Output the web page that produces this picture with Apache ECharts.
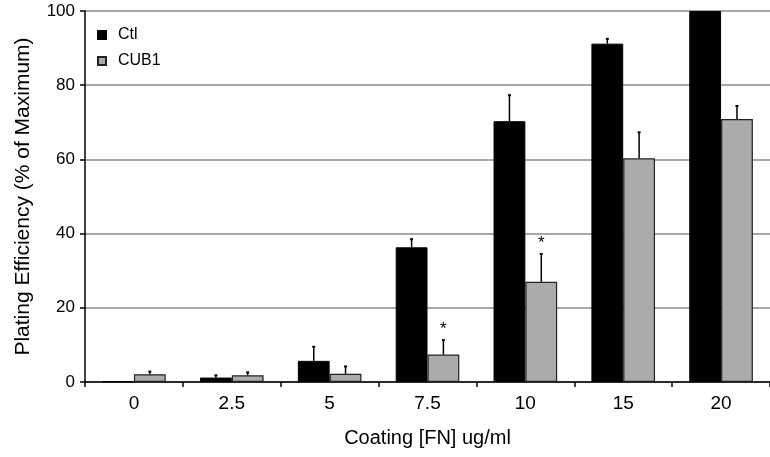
<!DOCTYPE html>
<html><head><meta charset="utf-8">
<script src="https://cdn.jsdelivr.net/npm/echarts@6/dist/echarts.min.js"></script>
<style>html,body{margin:0;padding:0;background:#fff}#c{width:770px;height:457px}</style>
</head><body><div id="c"></div>
<script>
var categories = ['0', '2.5', '5', '7.5', '10', '15', '20'];
var ctlValues = [0.2, 1.2, 5.7, 36.3, 70.3, 91.2, 100];
var ctlErrors = [0, 0.6, 3.8, 2.2, 7.0, 1.3, 0];
var cubValues = [2.1, 1.8, 2.2, 7.4, 27.0, 60.3, 70.9];
var cubErrors = [0.7, 0.8, 2.0, 3.9, 7.5, 7.0, 3.5];
var cubSignificant = [false, false, false, true, true, false, false];
var yTicks = [0, 20, 40, 60, 80, 100];

var FONT = 'Liberation Sans, Arial, sans-serif';

function errData(vals, errs, sig) {
  return vals.map(function (v, i) { return [i, v, errs[i], sig ? (sig[i] ? 1 : 0) : 0]; });
}
function makeErr(side) {
  return function (params, api) {
    var i = api.value(0), v = api.value(1), e = api.value(2), s = api.value(3);
    var bw = api.size([1, 0])[0] * 0.65 / 2;
    var base = api.coord([i, v]);
    var x = base[0] + side * bw / 2;
    var top = api.coord([i, v + e])[1];
    var children = [];
    if (e > 0) {
      children.push({ type: 'line', shape: { x1: x, y1: base[1], x2: x, y2: top }, style: { stroke: '#000', lineWidth: 1.5 } });
      children.push({ type: 'line', shape: { x1: x - 1.5, y1: top, x2: x + 1.5, y2: top }, style: { stroke: '#000', lineWidth: 2 } });
    }
    if (s) {
      children.push({ type: 'text', x: x, y: top - 2, style: { text: '*', font: '17px ' + FONT, fill: '#000', align: 'center', verticalAlign: 'bottom' } });
    }
    return { type: 'group', children: children };
  };
}

var chart = echarts.init(document.getElementById('c'));
chart.setOption({
  animation: false,
  backgroundColor: '#fff',
  grid: { left: 85, right: -8, top: 11, bottom: 75, containLabel: false },
  legend: {
    data: ['Ctl', 'CUB1'],
    orient: 'vertical', left: 92, top: 22,
    icon: 'rect',
    itemWidth: 8, itemHeight: 8, itemGap: 10,
    textStyle: { fontFamily: FONT, fontSize: 16, lineHeight: 16, color: '#000', padding: [0, 0, 0, 7] }
  },
  xAxis: {
    type: 'category', data: categories,
    name: 'Coating [FN] ug/ml', nameLocation: 'middle', nameGap: 46,
    nameTextStyle: { fontFamily: FONT, fontSize: 20, color: '#000' },
    axisLine: { lineStyle: { color: '#000', width: 1.5 } },
    axisTick: { show: true, length: 5, lineStyle: { color: '#000', width: 1.5 } },
    axisLabel: { fontFamily: FONT, fontSize: 19, color: '#000', margin: 12 }
  },
  yAxis: {
    type: 'value', min: 0, max: 100, interval: 20,
    name: 'Plating Efficiency (% of Maximum)', nameLocation: 'middle', nameGap: 51,
    nameTextStyle: { fontFamily: FONT, fontSize: 21, color: '#000' },
    axisLine: { show: true, lineStyle: { color: '#000', width: 1.5 } },
    axisTick: { show: true, length: 5, lineStyle: { color: '#000', width: 1.5 } },
    axisLabel: { fontFamily: FONT, fontSize: 17, color: '#000', margin: 10,
      formatter: function (v) { return yTicks.indexOf(v) >= 0 ? String(v) : ''; } },
    splitLine: { lineStyle: { color: '#8a8a8a', width: 1.5 } }
  },
  series: [
    { name: 'Ctl', type: 'bar', data: ctlValues, barGap: '0%', barCategoryGap: '35%',
      itemStyle: { color: '#000', borderColor: '#000', borderWidth: 1 }, z: 2 },
    { name: 'CUB1', type: 'bar', data: cubValues,
      itemStyle: { color: '#ababab', borderColor: '#222', borderWidth: 1.2 }, z: 2 },
    { type: 'custom', data: errData(ctlValues, ctlErrors), renderItem: makeErr(-1), z: 3, silent: true },
    { type: 'custom', data: errData(cubValues, cubErrors, cubSignificant), renderItem: makeErr(1), z: 3, silent: true }
  ]
});
</script>
</body></html>
